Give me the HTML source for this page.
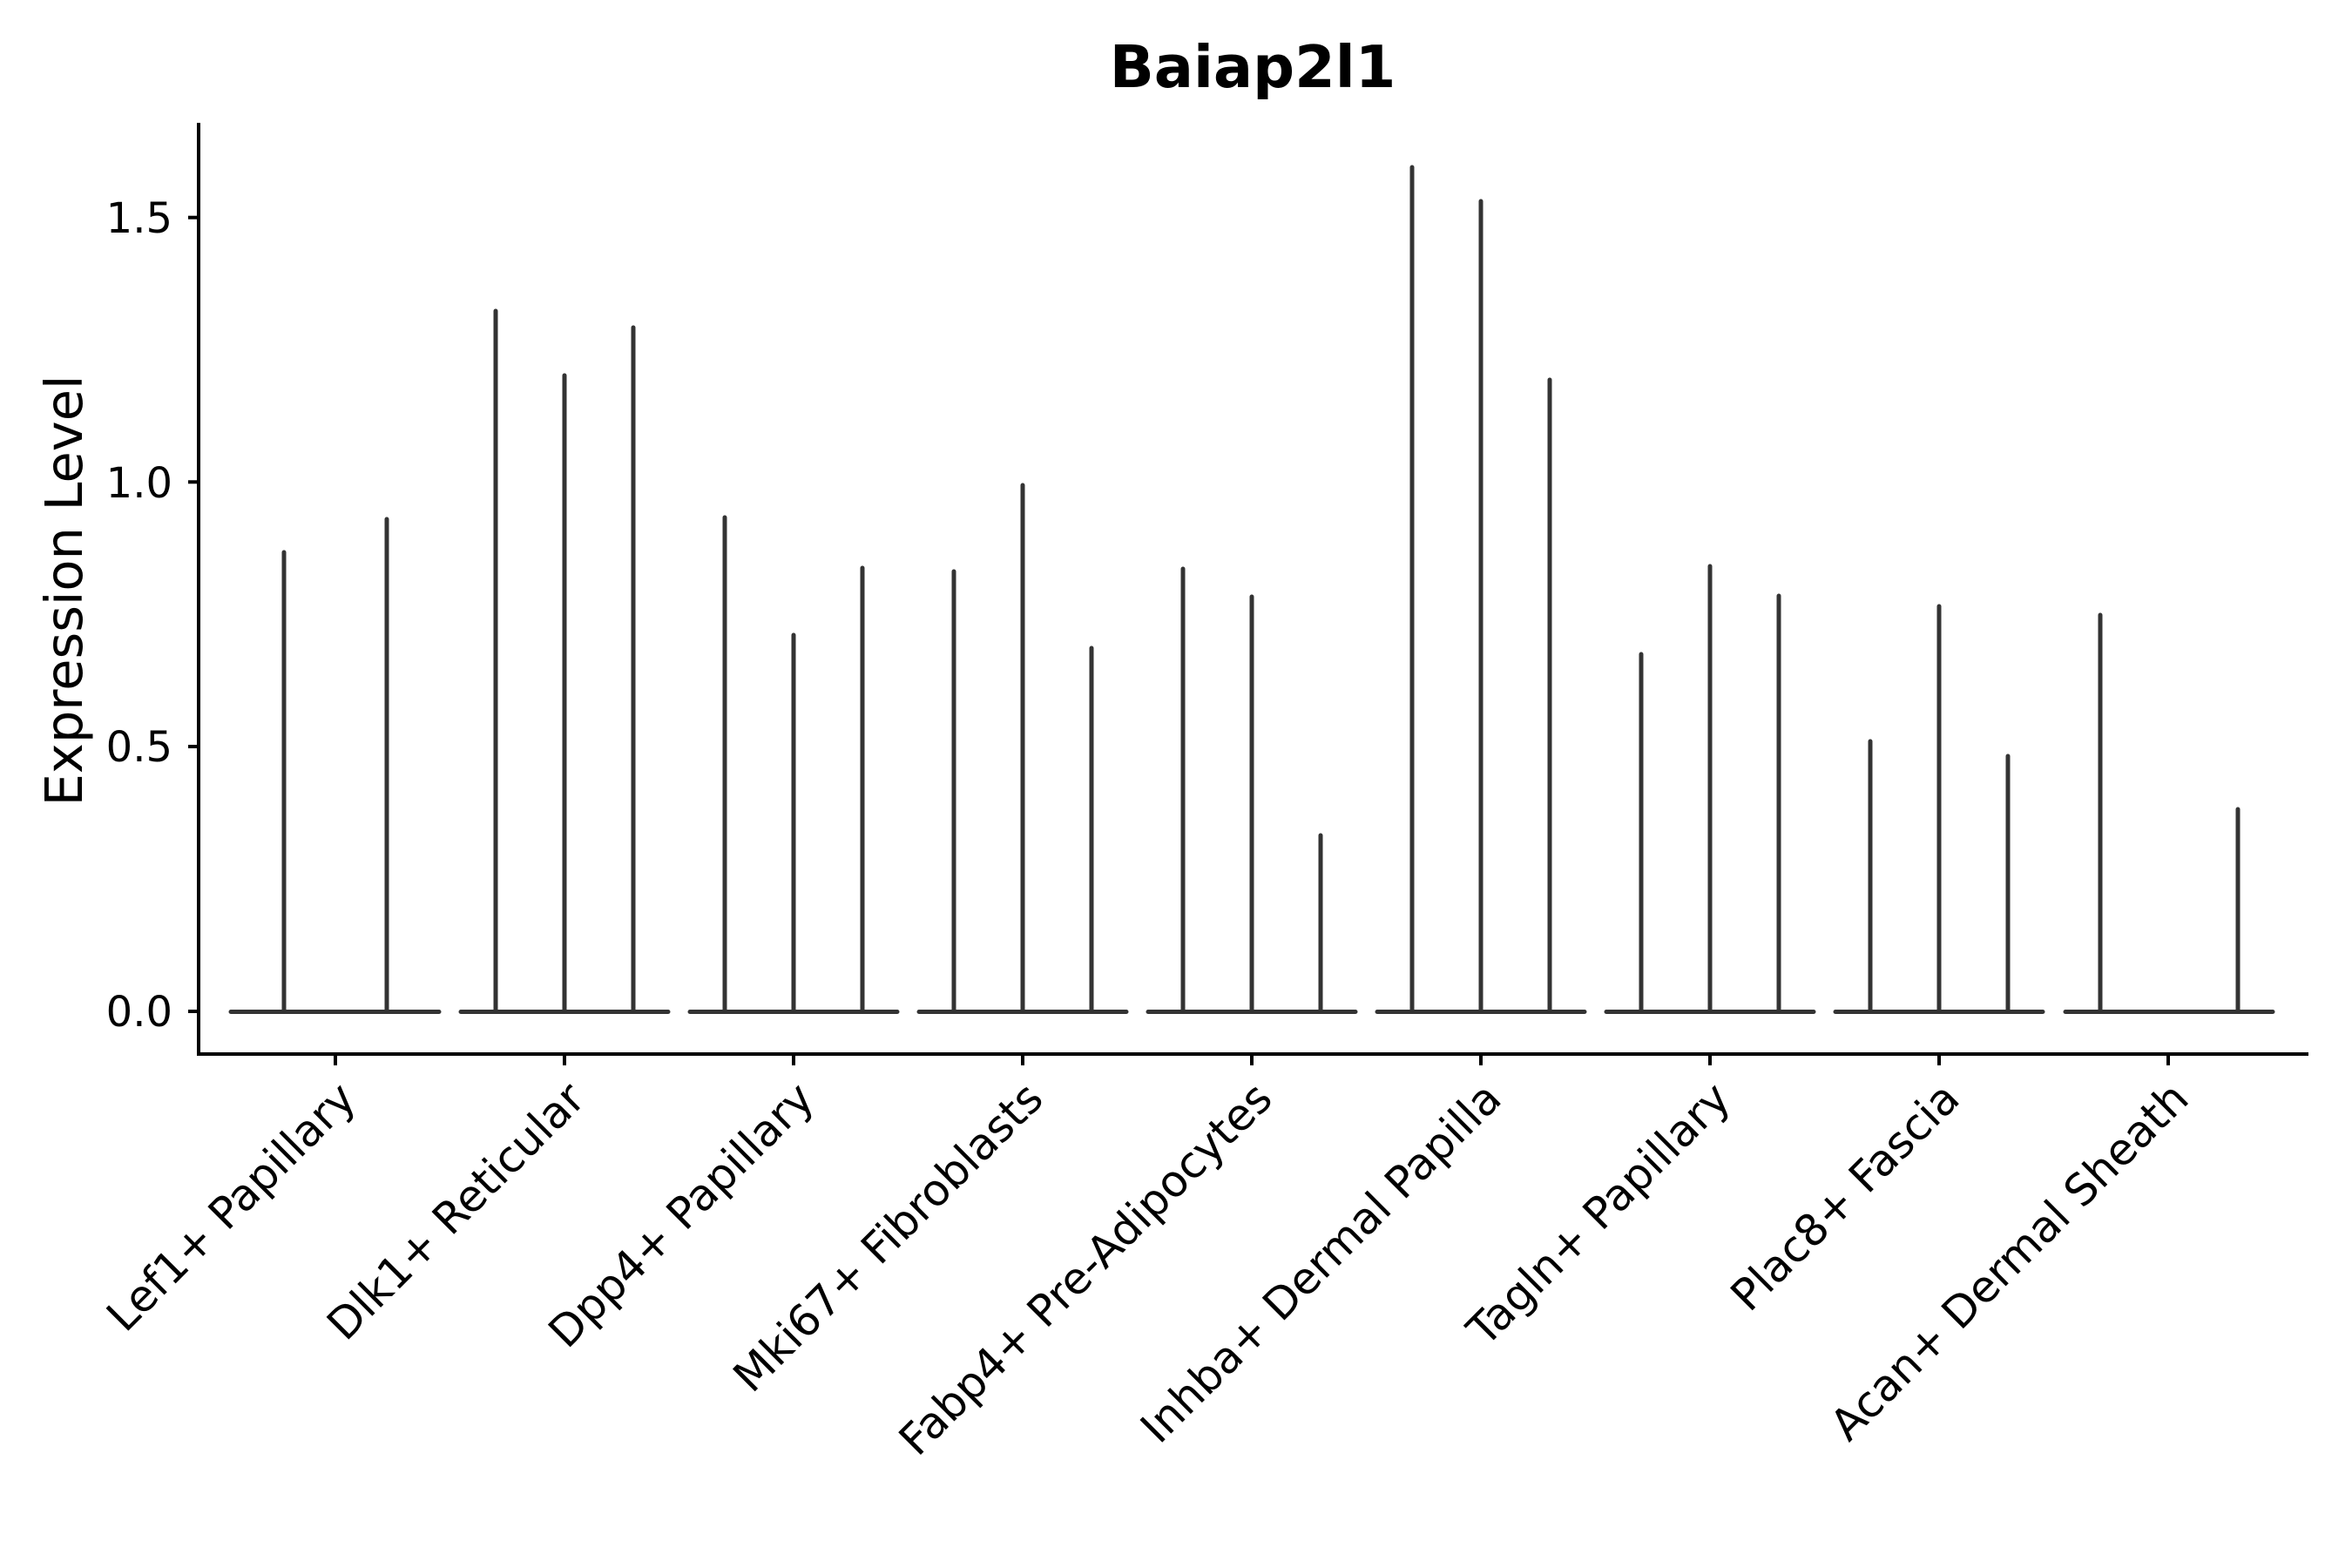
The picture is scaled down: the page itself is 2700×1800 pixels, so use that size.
<!DOCTYPE html>
<html><head><meta charset="utf-8"><style>
html,body{margin:0;padding:0;background:#fff;}
svg{display:block;}
text{font-family:"DejaVu Sans","Liberation Sans",sans-serif;fill:#000;}
</style></head><body>
<svg width="2700" height="1800" viewBox="0 0 2700 1800" xmlns="http://www.w3.org/2000/svg">
<rect width="2700" height="1800" fill="#fff"/>
<text x="1438" y="100" font-size="67" font-weight="bold" text-anchor="middle">Baiap2l1</text>
<g stroke="#333" stroke-width="5" stroke-linecap="round" fill="none">
<line x1="265" y1="1161.5" x2="504" y2="1161.5"/>
<line x1="529" y1="1161.5" x2="767" y2="1161.5"/>
<line x1="792" y1="1161.5" x2="1030" y2="1161.5"/>
<line x1="1055" y1="1161.5" x2="1293" y2="1161.5"/>
<line x1="1318" y1="1161.5" x2="1556" y2="1161.5"/>
<line x1="1581" y1="1161.5" x2="1819" y2="1161.5"/>
<line x1="1844" y1="1161.5" x2="2082" y2="1161.5"/>
<line x1="2107" y1="1161.5" x2="2345" y2="1161.5"/>
<line x1="2371" y1="1161.5" x2="2609" y2="1161.5"/>
<line x1="326" y1="1161" x2="326" y2="634"/>
<line x1="444" y1="1161" x2="444" y2="596"/>
<line x1="569" y1="1161" x2="569" y2="357"/>
<line x1="648" y1="1161" x2="648" y2="431"/>
<line x1="727" y1="1161" x2="727" y2="376"/>
<line x1="832" y1="1161" x2="832" y2="594"/>
<line x1="911" y1="1161" x2="911" y2="729"/>
<line x1="990" y1="1161" x2="990" y2="652"/>
<line x1="1095" y1="1161" x2="1095" y2="656"/>
<line x1="1174" y1="1161" x2="1174" y2="557"/>
<line x1="1253" y1="1161" x2="1253" y2="744"/>
<line x1="1358" y1="1161" x2="1358" y2="653"/>
<line x1="1437" y1="1161" x2="1437" y2="685"/>
<line x1="1516" y1="1161" x2="1516" y2="959"/>
<line x1="1621" y1="1161" x2="1621" y2="192"/>
<line x1="1700" y1="1161" x2="1700" y2="231"/>
<line x1="1779" y1="1161" x2="1779" y2="436"/>
<line x1="1884" y1="1161" x2="1884" y2="751"/>
<line x1="1963" y1="1161" x2="1963" y2="650"/>
<line x1="2042" y1="1161" x2="2042" y2="684"/>
<line x1="2147" y1="1161" x2="2147" y2="851"/>
<line x1="2226" y1="1161" x2="2226" y2="696"/>
<line x1="2305" y1="1161" x2="2305" y2="868"/>
<line x1="2411" y1="1161" x2="2411" y2="706"/>
<line x1="2569" y1="1161" x2="2569" y2="929"/>
</g>
<g stroke="#000" stroke-width="4" fill="none">
<line x1="228" y1="141" x2="228" y2="1212"/>
<line x1="226" y1="1210" x2="2650" y2="1210"/>
<line x1="216" y1="249.7" x2="228" y2="249.7"/>
<line x1="216" y1="553.3" x2="228" y2="553.3"/>
<line x1="216" y1="857" x2="228" y2="857"/>
<line x1="216" y1="1161" x2="228" y2="1161"/>
<line x1="385" y1="1210" x2="385" y2="1223"/>
<line x1="648" y1="1210" x2="648" y2="1223"/>
<line x1="911" y1="1210" x2="911" y2="1223"/>
<line x1="1174" y1="1210" x2="1174" y2="1223"/>
<line x1="1437" y1="1210" x2="1437" y2="1223"/>
<line x1="1700" y1="1210" x2="1700" y2="1223"/>
<line x1="1963" y1="1210" x2="1963" y2="1223"/>
<line x1="2226" y1="1210" x2="2226" y2="1223"/>
<line x1="2489" y1="1210" x2="2489" y2="1223"/>
</g>
<g font-size="48" text-anchor="end">
<text x="198" y="267">1.5</text>
<text x="198" y="571">1.0</text>
<text x="198" y="874">0.5</text>
<text x="198" y="1178">0.0</text>
</g>
<text transform="translate(94,678) rotate(-90)" font-size="59" text-anchor="middle">Expression Level</text>
<g font-size="50" text-anchor="end">
<text transform="translate(411,1264) rotate(-45)">Lef1+ Papillary</text>
<text transform="translate(674,1264) rotate(-45)">Dlk1+ Reticular</text>
<text transform="translate(937,1264) rotate(-45)">Dpp4+ Papillary</text>
<text transform="translate(1200,1264) rotate(-45)">Mki67+ Fibroblasts</text>
<text transform="translate(1463,1264) rotate(-45)">Fabp4+ Pre-Adipocytes</text>
<text transform="translate(1726,1264) rotate(-45)">Inhba+ Dermal Papilla</text>
<text transform="translate(1989,1264) rotate(-45)">Tagln+ Papillary</text>
<text transform="translate(2252,1264) rotate(-45)">Plac8+ Fascia</text>
<text transform="translate(2515,1264) rotate(-45)">Acan+ Dermal Sheath</text>
</g>
</svg>
</body></html>
